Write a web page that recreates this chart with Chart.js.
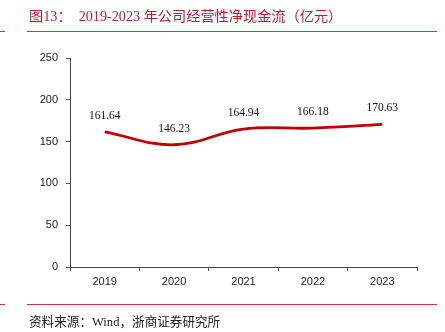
<!DOCTYPE html>
<html>
<head>
<meta charset="utf-8">
<title>2019-2023年公司经营性净现金流</title>
<script src="https://cdn.jsdelivr.net/npm/chart.js@4.4.1/dist/chart.umd.min.js"></script>
<style>
  html, body { margin: 0; padding: 0; background: #fff; }
  #wrap { width: 445px; height: 332px; }
</style>
</head>
<body>
<div id="wrap"><canvas id="myChart" width="445" height="332"></canvas></div>
<script>
const YEARS = ['2019', '2020', '2021', '2022', '2023'];
const CASH_FLOW = [161.64, 146.23, 164.94, 166.18, 170.63];
const Y_TICKS = [0, 50, 100, 150, 200, 250];

const TITLE = '图13：  2019-2023 年公司经营性净现金流（亿元）';
const SOURCE = '资料来源：Wind，浙商证券研究所';
const RED = '#c00000';

// 标题、红线、资料来源
const framePlugin = {
  id: 'frame',
  afterDraw(chart) {
    const c = chart.ctx;
    c.save();
    c.fillStyle = '#b8202e';
    c.font = '14.2px "Liberation Serif", "Noto Sans CJK SC", serif';
    c.textBaseline = 'alphabetic';
    c.fillText(TITLE, 29, 21);

    c.strokeStyle = '#d0343f';
    c.lineWidth = 1;
    c.beginPath();
    c.moveTo(0, 31.5); c.lineTo(5, 31.5);
    c.moveTo(27, 31.5); c.lineTo(437, 31.5);
    c.moveTo(0, 304.5); c.lineTo(5, 304.5);
    c.moveTo(27, 304.5); c.lineTo(437, 304.5);
    c.stroke();

    c.fillStyle = '#222';
    c.font = '12.6px "Liberation Serif", "Noto Sans CJK SC", serif';
    c.fillText(SOURCE, 29, 326);
    c.restore();
  }
};

// 数据标签
const labelPlugin = {
  id: 'valueLabels',
  afterDatasetsDraw(chart) {
    const c = chart.ctx;
    const meta = chart.getDatasetMeta(0);
    c.save();
    c.fillStyle = '#111';
    c.font = '11.5px "Liberation Serif", serif';
    c.textAlign = 'center';
    c.textBaseline = 'alphabetic';
    meta.data.forEach((pt, i) => {
      c.fillText(CASH_FLOW[i].toFixed(2), pt.x, pt.y - 13);
    });
    c.restore();
  }
};

const config = {
  type: 'line',
  data: {
    labels: YEARS,
    datasets: [{
      data: CASH_FLOW,
      borderColor: RED,
      borderWidth: 2.8,
      pointRadius: 0,
      tension: 0.4,
      fill: false
    }]
  },
  options: {
    responsive: false,
    animation: false,
    layout: { padding: { left: 0, right: 28, top: 58, bottom: 0 } },
    plugins: { legend: { display: false }, tooltip: { enabled: false } },
    scales: {
      x: {
        offset: true,
        grid: { display: true, drawOnChartArea: false, offset: true, tickLength: 4, color: '#555' },
        border: { color: '#444', width: 1 },
        ticks: { color: '#222', font: { family: 'Liberation Sans, Arial', size: 11 }, padding: 4, maxRotation: 0 },
        afterFit(scale) { scale.height = 65; }
      },
      y: {
        min: 0,
        max: 250,
        afterBuildTicks(scale) { scale.ticks = Y_TICKS.map(v => ({ value: v })); },
        grid: { display: true, drawOnChartArea: false, tickLength: 4, color: '#555' },
        border: { color: '#444', width: 1 },
        ticks: { color: '#222', font: { family: 'Liberation Sans, Arial', size: 11 }, padding: 8 },
        afterFit(scale) { scale.width = 70; }
      }
    }
  },
  plugins: [framePlugin, labelPlugin]
};

const myChart = new Chart(document.getElementById('myChart'), config);
</script>
</body>
</html>
